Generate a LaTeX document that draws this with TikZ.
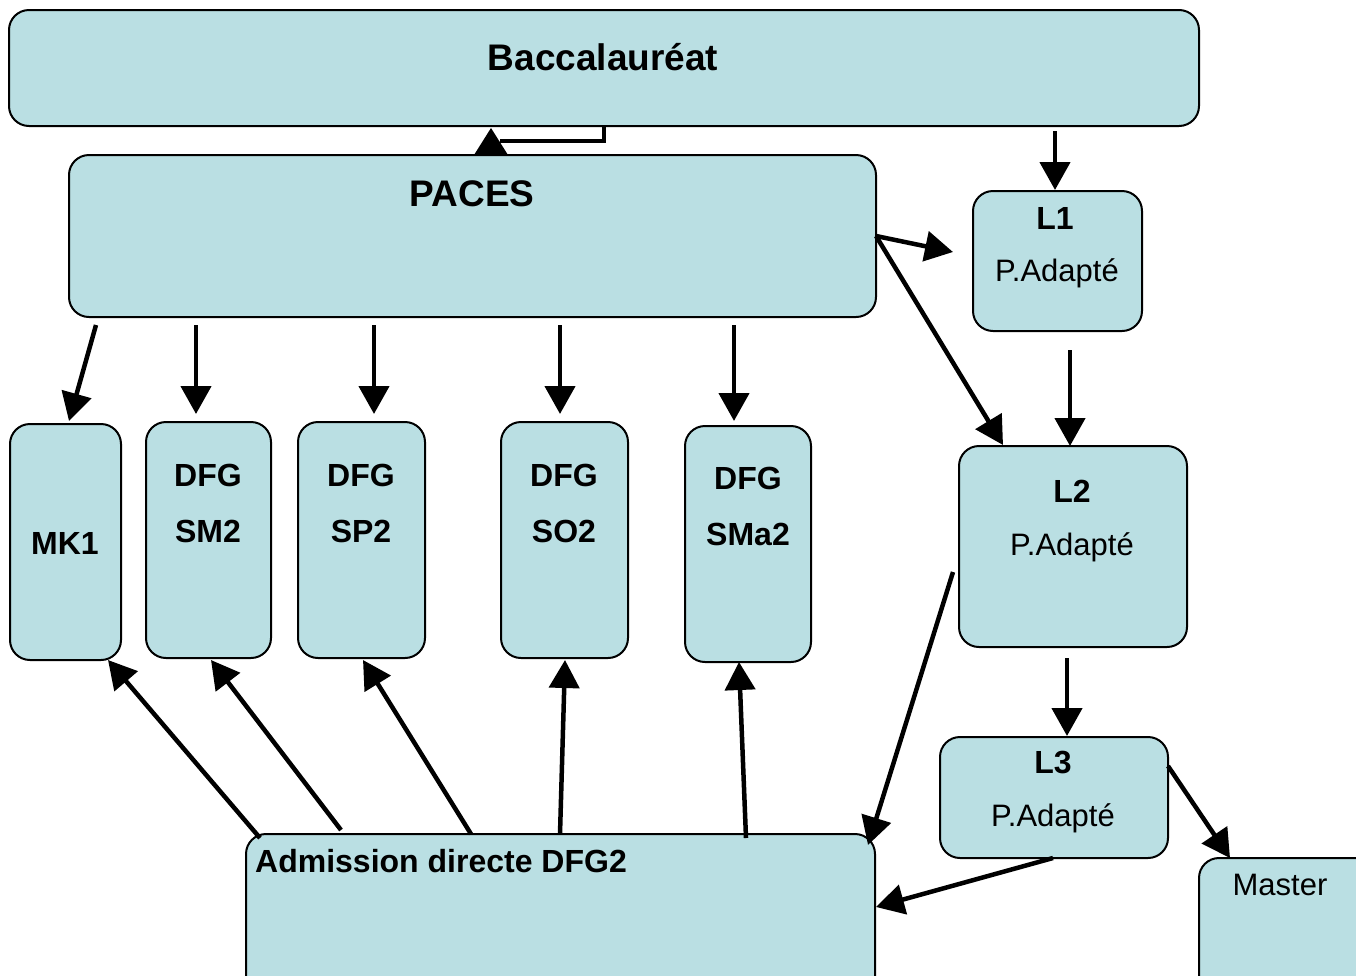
\documentclass[tikz,border=0pt]{standalone}
\usepackage{fontspec}
\setmainfont{Liberation Sans}
\usetikzlibrary{arrows.meta}
\definecolor{boxc}{RGB}{186,223,227}
\tikzset{
  box/.style={draw=black, line width=2pt, rounded corners=20pt, fill=boxc, inner sep=0pt},
  bigtxt/.style={inner sep=0pt, anchor=base, font=\fontsize{37}{40}\selectfont\bfseries},
  btxt/.style={inner sep=0pt, anchor=base, font=\fontsize{32}{36}\selectfont\bfseries},
  rtxt/.style={inner sep=0pt, anchor=base, font=\fontsize{31}{36}\selectfont},
  arr/.style={line width=4.5pt, -{Triangle[length=28pt,width=30pt]}},
  conn/.style={line width=4.5pt}
}
\begin{document}
\begin{tikzpicture}[x=1pt,y=-1pt]
\useasboundingbox[fill=white] (0,0) rectangle (1356,975);
\clip (0,0) rectangle (1356,975);
% boxes
\node[box, minimum width=1190pt, minimum height=116pt] (bac) at (604,68) {};
\node[box, minimum width=807pt, minimum height=162pt] (paces) at (472.5,236) {};
\node[box, minimum width=169pt, minimum height=140pt] (l1) at (1057.5,261) {};
\node[box, minimum width=228pt, minimum height=201pt] (l2) at (1073,546.5) {};
\node[box, minimum width=228pt, minimum height=121pt] (l3) at (1054,797.5) {};
\node[box, minimum width=182pt, minimum height=142pt] (master) at (1290,929) {};
\node[box, minimum width=111pt, minimum height=236pt] (mk1) at (65.5,542) {};
\node[box, minimum width=125pt, minimum height=236pt] (sm2) at (208.5,540) {};
\node[box, minimum width=127pt, minimum height=236pt] (sp2) at (361.5,540) {};
\node[box, minimum width=127pt, minimum height=236pt] (so2) at (564.5,540) {};
\node[box, minimum width=126pt, minimum height=236pt] (sma2) at (748,544) {};
\node[box, minimum width=629pt, minimum height=166pt] (adm) at (560.5,917) {};
% texts
\node[bigtxt] (tbac) at (603,70) {Baccalauréat};
\node[bigtxt] (tpaces) at (472,206) {PACES};
\node[btxt] (tl1) at (1055,229) {L1};
\node[rtxt] (tl1b) at (1057,281) {P.Adapté};
\node[btxt] (tl2) at (1072,502) {L2};
\node[rtxt] (tl2b) at (1072,555) {P.Adapté};
\node[btxt] (tl3) at (1053,773) {L3};
\node[rtxt] (tl3b) at (1053,826) {P.Adapté};
\node[rtxt] (tmaster) at (1280,895) {Master};
\node[btxt] (tmk1) at (65,554) {MK1};
\node[btxt] (tsm2a) at (208,486) {DFG};
\node[btxt] (tsm2b) at (208,542) {SM2};
\node[btxt] (tsp2a) at (361,486) {DFG};
\node[btxt] (tsp2b) at (361,542) {SP2};
\node[btxt] (tso2a) at (564,486) {DFG};
\node[btxt] (tso2b) at (564,542) {SO2};
\node[btxt] (tsma2a) at (748,489) {DFG};
\node[btxt] (tsma2b) at (748,545) {SMa2};
\node[btxt, anchor=base west] (tadm) at (255,872) {Admission directe DFG2};
% connector endpoints
\coordinate (b1) at (604,126);
\coordinate (b2) at (604,141);
\coordinate (b3) at (500,141);
\coordinate (bl1) at (1055,131);
\coordinate (l1t) at (1055,190);
\coordinate (pe) at (876,236);
\coordinate (l1w) at (953,252);
\coordinate (l2n) at (1003,445);
\coordinate (p1) at (96,325);   \coordinate (mk1t) at (69,421);
\coordinate (p2) at (196,325);  \coordinate (sm2t) at (196,414);
\coordinate (p3) at (374,325);  \coordinate (sp2t) at (374,414);
\coordinate (p4) at (560,325);  \coordinate (so2t) at (560,414);
\coordinate (p5) at (734,325);  \coordinate (sma2t) at (734,421);
\coordinate (l1s) at (1070,350); \coordinate (l2t) at (1070,446);
\coordinate (l2s) at (1067,658); \coordinate (l3t) at (1067,736);
\coordinate (l3e) at (1168,766); \coordinate (mt) at (1230,858);
\coordinate (l3s) at (1053,858); \coordinate (admE) at (876,907);
\coordinate (l2w) at (953,572); \coordinate (admN) at (868,845);
\coordinate (a1) at (260,838); \coordinate (mk1b) at (108,660);
\coordinate (a2) at (341,830); \coordinate (sm2b) at (211,660);
\coordinate (a3) at (471,834); \coordinate (sp2b) at (363,660);
\coordinate (a4) at (560,834); \coordinate (so2b) at (565,660);
\coordinate (a5) at (746,838); \coordinate (sma2b) at (739,662);
% connectors
\draw[conn, line cap=butt] (b1) -- (b2) -- (b3);
\fill (474,155) -- (508,155) -- (491,128) -- cycle;
\draw[arr] (bl1) -- (l1t);
\draw[arr] (pe) -- (l1w);
\draw[arr] (pe) -- (l2n);
\draw[arr] (p1) -- (mk1t);
\draw[arr] (p2) -- (sm2t);
\draw[arr] (p3) -- (sp2t);
\draw[arr] (p4) -- (so2t);
\draw[arr] (p5) -- (sma2t);
\draw[arr] (l1s) -- (l2t);
\draw[arr] (l2s) -- (l3t);
\draw[arr] (l3e) -- (mt);
\draw[arr] (l3s) -- (admE);
\draw[arr] (l2w) -- (admN);
\draw[arr] (a1) -- (mk1b);
\draw[arr] (a2) -- (sm2b);
\draw[arr] (a3) -- (sp2b);
\draw[arr] (a4) -- (so2b);
\draw[arr] (a5) -- (sma2b);
\end{tikzpicture}
\end{document}
